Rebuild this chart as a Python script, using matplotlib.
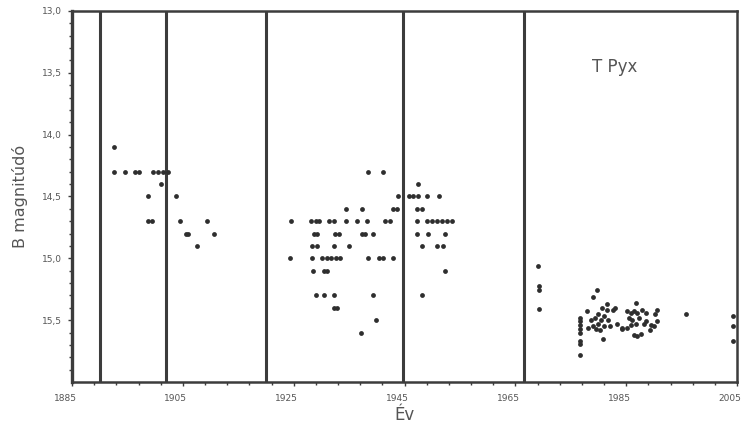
import numpy as np
import matplotlib
matplotlib.use("Agg")
import matplotlib.pyplot as plt
import matplotlib.transforms as mtransforms
from matplotlib.ticker import FixedLocator, FixedFormatter

# --- data ---
eruptions = [1890, 1902, 1920, 1944.8, 1966.5]

hist_years = [1892.5, 1892.5, 1894.5, 1896.4, 1897.0, 1899.7, 1900.6, 1901.5, 1902.4,
              1901.1, 1898.7, 1903.8, 1898.8, 1899.4, 1904.5, 1909.4, 1905.6, 1905.9,
              1910.6, 1907.6,
              1938.4, 1941.1,
              1947.4,
              1943.9, 1945.8, 1946.6, 1947.5, 1949.1, 1951.3,
              1934.4, 1937.3, 1943.0, 1943.6, 1947.2, 1948.1,
              1924.5, 1928.2, 1929.0, 1929.6, 1931.4, 1932.2, 1934.4, 1936.5, 1938.2,
              1941.5, 1942.3, 1947.2, 1949.0, 1950.0, 1950.9, 1951.8, 1952.7, 1953.6,
              1928.6, 1929.2, 1932.5, 1933.1, 1937.3, 1937.9, 1939.4, 1947.2, 1949.3, 1952.3,
              1928.3, 1929.2, 1932.2, 1935.0, 1948.1, 1950.8, 1952.0,
              1924.4, 1928.3, 1930.2, 1931.0, 1931.8, 1932.6, 1933.4, 1938.4, 1940.4,
              1941.1, 1943.0,
              1928.4, 1930.4, 1931.1, 1952.3,
              1929.0, 1930.4, 1932.2, 1939.4, 1948.2,
              1932.2, 1932.9,
              1939.9,
              1937.2]
hist_mags = [14.1, 14.3, 14.3, 14.3, 14.3, 14.3, 14.3, 14.3, 14.3,
             14.4, 14.5, 14.5, 14.7, 14.7, 14.7, 14.7, 14.8, 14.8,
             14.8, 14.9,
             14.3, 14.3,
             14.4,
             14.5, 14.5, 14.5, 14.5, 14.5, 14.5,
             14.6, 14.6, 14.6, 14.6, 14.6, 14.6,
             14.7, 14.7, 14.7, 14.7, 14.7, 14.7, 14.7, 14.7, 14.7,
             14.7, 14.7, 14.7, 14.7, 14.7, 14.7, 14.7, 14.7, 14.7,
             14.8, 14.8, 14.8, 14.8, 14.8, 14.8, 14.8, 14.8, 14.8, 14.8,
             14.9, 14.9, 14.9, 14.9, 14.9, 14.9, 14.9,
             15.0, 15.0, 15.0, 15.0, 15.0, 15.0, 15.0, 15.0, 15.0,
             15.0, 15.0,
             15.1, 15.1, 15.1, 15.1,
             15.3, 15.3, 15.3, 15.3, 15.3,
             15.4, 15.4,
             15.5,
             15.6]

mod_years = [1969.0, 1969.2, 1969.2, 1969.3,
             1976.7, 1976.7, 1976.7, 1976.7, 1976.7, 1976.7, 1976.7, 1976.7,
             1977.9, 1978.2, 1979.1, 1979.7, 1980.0, 1980.4, 1980.6, 1980.8, 1981.0,
             1981.5, 1981.5, 1981.0, 1979.0, 1979.6, 1980.2, 1982.0, 1982.7, 1983.0,
             1983.3, 1984.2, 1985.1, 1978.6, 1979.4, 1980.0, 1981.8,
             1986.7, 1985.8, 1986.4, 1987.0, 1987.9, 1988.5, 1990.5, 1990.2, 1985.5,
             1986.1, 1987.4, 1988.6, 1989.4, 1990.5, 1985.9, 1986.8, 1988.2, 1989.3,
             1990.0, 1984.3, 1986.4, 1987.0, 1987.6, 1985.2,
             1995.8,
             2004.3, 2004.3, 2004.3]
mod_mags = [15.06, 15.22, 15.26, 15.41,
            15.48, 15.51, 15.54, 15.57, 15.60, 15.67, 15.69, 15.78,
            15.43, 15.56, 15.31, 15.26, 15.45, 15.50, 15.40, 15.65, 15.55,
            15.37, 15.42, 15.47, 15.55, 15.57, 15.58, 15.55, 15.42, 15.40,
            15.53, 15.56, 15.43, 15.50, 15.48, 15.53, 15.50,
            15.36, 15.44, 15.43, 15.44, 15.42, 15.44, 15.42, 15.45, 15.48,
            15.50, 15.48, 15.51, 15.54, 15.51, 15.54, 15.53, 15.53, 15.58,
            15.55, 15.57, 15.62, 15.63, 15.61, 15.56,
            15.45,
            15.47, 15.55, 15.67]

xticks = [1885, 1905, 1925, 1945, 1965, 1985, 2005]
xtick_labels = ["1885", "1905", "1925", "1945", "1965", "1985", "2005"]
yticks = [13.0, 13.5, 14.0, 14.5, 15.0, 15.5]
ytick_labels = ["13,0", "13,5", "14,0", "14,5", "15,0", "15,5"]

# --- figure ---
fig = plt.figure(figsize=(7.44, 4.36), dpi=100)
ax = fig.add_axes([0.0968, 0.1239, 0.8938, 0.8509])

dark = "#3c3c3c"
pt = "#2e2e2e"

for e in eruptions:
    ax.axvline(e, color=dark, lw=2.2, zorder=2)

ax.scatter(hist_years, hist_mags, s=12, color=pt, zorder=3, linewidths=0)
ax.scatter(mod_years, mod_mags, s=12, color=pt, zorder=3, linewidths=0)

ax.set_xlim(1885, 2005)
ax.set_ylim(16.0, 13.0)

ax.xaxis.set_major_locator(FixedLocator(xticks))
ax.xaxis.set_major_formatter(FixedFormatter(xtick_labels))
ax.xaxis.set_minor_locator(FixedLocator(list(np.arange(1885, 2006, 4))))
ax.yaxis.set_major_locator(FixedLocator(yticks))
ax.yaxis.set_major_formatter(FixedFormatter(ytick_labels))
ax.yaxis.set_minor_locator(FixedLocator(list(np.round(np.arange(13.0, 16.0, 0.1), 2))))

ax.tick_params(axis="both", which="major", length=3, width=1.0, color=dark,
               labelsize=6.5, labelcolor="#555555", direction="out")
ax.tick_params(axis="both", which="minor", length=2, width=1.0, color=dark, direction="out")
ax.tick_params(axis="x", which="major", pad=6)
ax.tick_params(axis="y", which="major", pad=4)

# x tick labels sit slightly left of their ticks in the reference
offset = mtransforms.ScaledTranslation(-7 / 100, 0, fig.dpi_scale_trans)
for lbl in ax.get_xticklabels():
    lbl.set_transform(lbl.get_transform() + offset)

for side, sp in ax.spines.items():
    sp.set_color(dark)
    sp.set_linewidth(1.8)
ax.spines["left"].set_linewidth(2.4)

ax.set_xlabel("Év", fontsize=12, color="#555555", labelpad=2)
ax.set_ylabel("B magnitúdó", fontsize=11.5, color="#555555", labelpad=10)

ax.text(1983, 13.45, "T Pyx", fontsize=12, color="#555555", ha="center", va="center")

fig.savefig("out.png", dpi=100)
